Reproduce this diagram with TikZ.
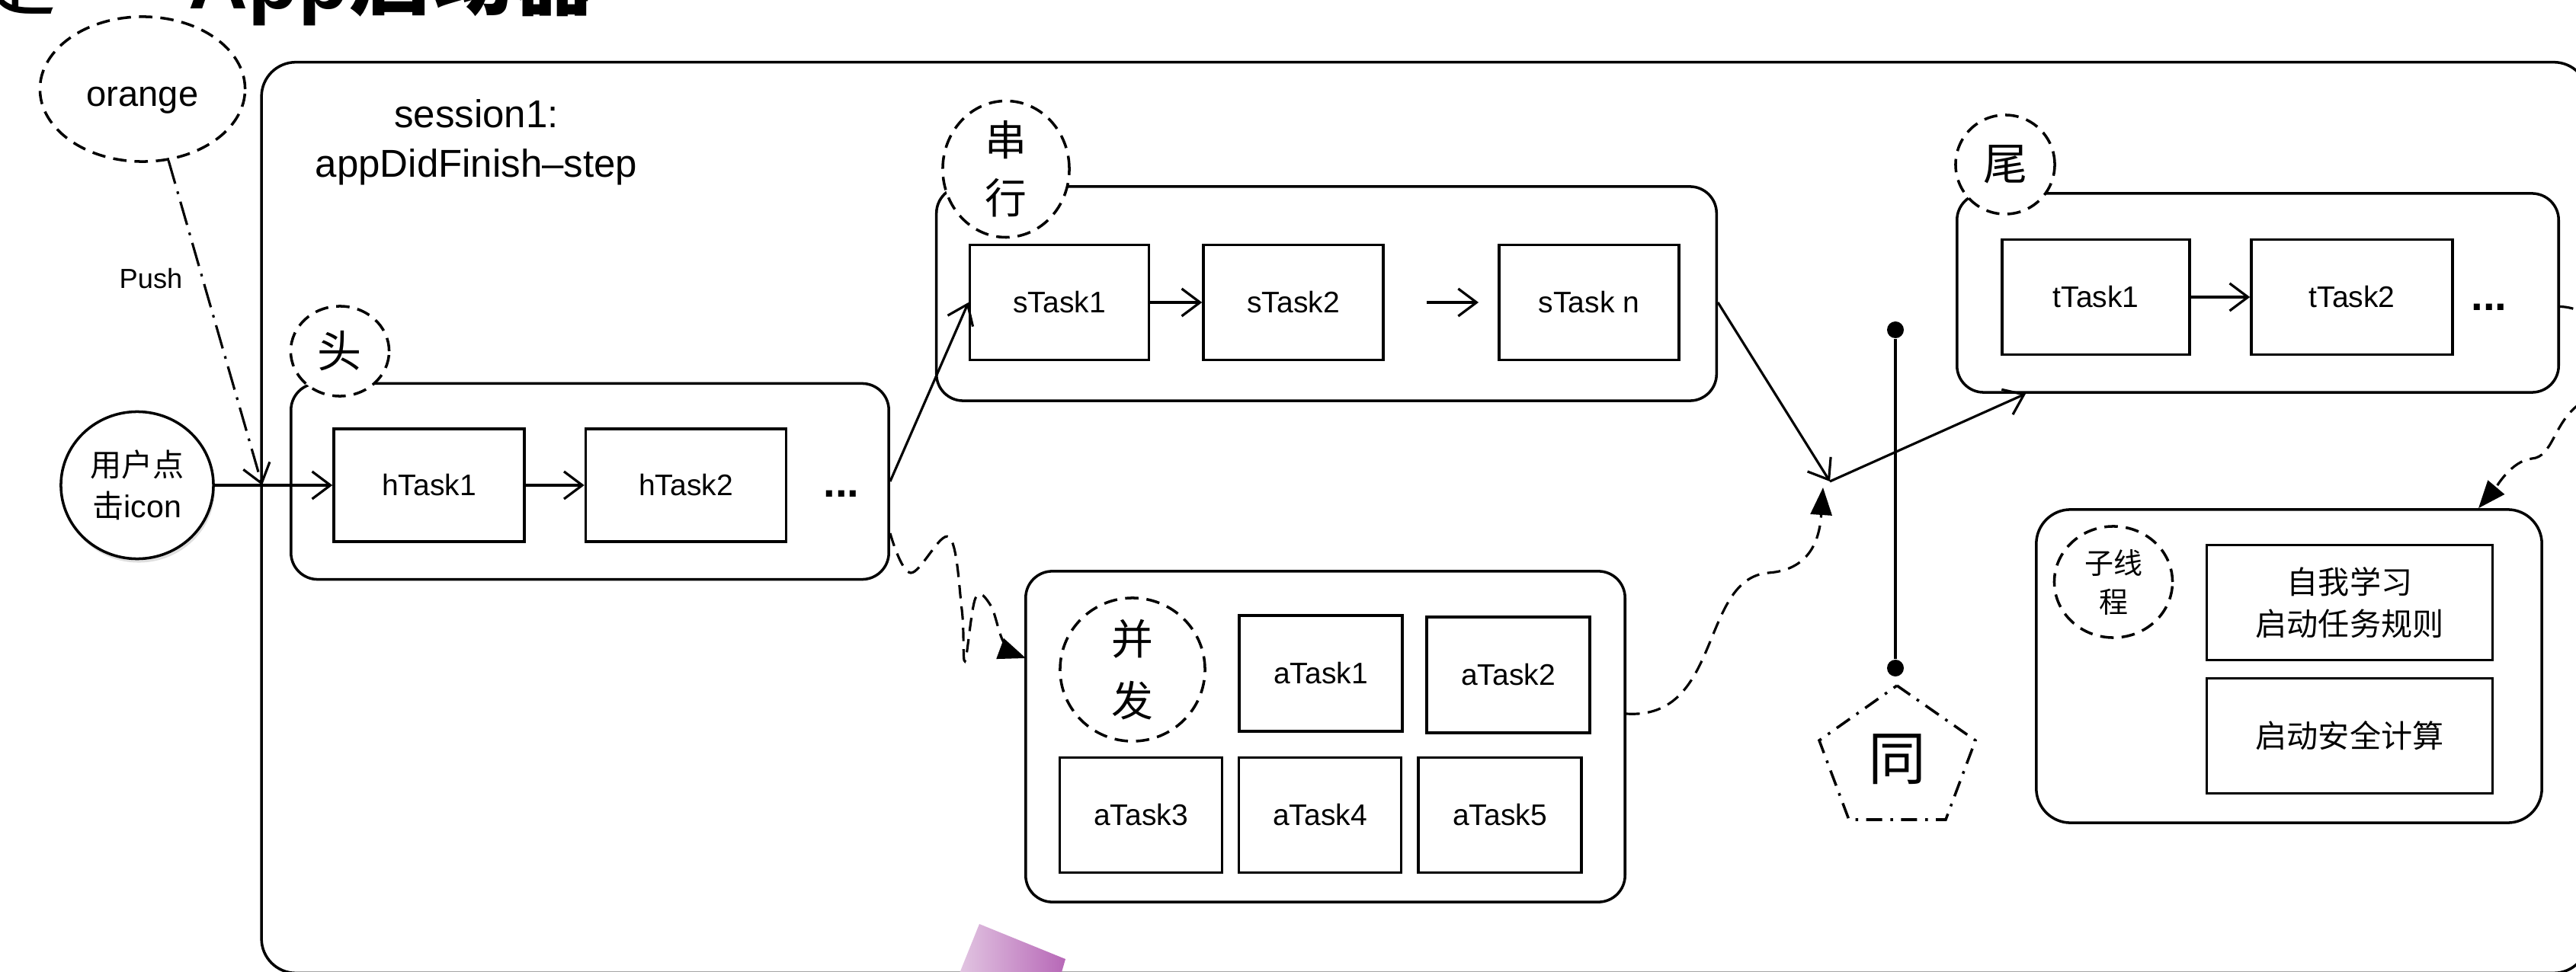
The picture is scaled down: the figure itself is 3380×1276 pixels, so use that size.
\documentclass[tikz,border=0pt]{standalone}
\usepackage{fontspec}
\setmainfont{Liberation Sans}
\newfontfamily\cjk{Noto Sans CJK SC}
\usetikzlibrary{arrows.meta,shapes.geometric,calc,shadows}
\definecolor{purpleA}{HTML}{E3C8E3}
\definecolor{purpleB}{HTML}{B768B7}
\newcommand\fsz[2]{\fontsize{#1pt}{#2pt}\selectfont}
\tikzset{
  grp/.style={draw, line width=1pt, rounded corners=0.35cm, inner sep=0pt},
  task/.style={draw, line width=1pt, inner sep=0pt, align=center, font=\fsz{11.1}{13}},
  tag/.style={draw, ellipse, line width=1pt, dash pattern=on 5pt off 3pt, fill=white, inner sep=0pt, align=center},
  conn/.style={line width=0.9pt, -{Straight Barb[length=0.24cm,width=0.36cm]}},
  dconn/.style={line width=0.9pt, dash pattern=on 5pt off 3pt, -{Triangle[length=0.36cm,width=0.28cm]}},
  dotnode/.style={circle, fill=black, minimum size=0.22cm, inner sep=0pt},
}
\begin{document}
\begin{tikzpicture}[x=0.01cm, y=-0.01cm]
\useasboundingbox (0,0) rectangle (3380,1276);
\clip (0,0) rectangle (3380,1276);
\fill[white] (0,0) rectangle (3380,1276);

% title (cut off at the top, as in the reference)
\node[anchor=base east, inner sep=0pt, font={\cjk\fsz{30.7}{36}}] (ttlA) at (75,12) {定};
\node[anchor=base west, inner sep=0pt, font={\bfseries\fsz{30.7}{36}}] (ttlB) at (247,12) {App{\cjk 启动器}};

% session box
\node[draw, line width=1pt, rounded corners=0.45cm, minimum width=30.51cm, minimum height=11.95cm, inner sep=0pt] (session) at (1869.5,679.5) {};
\node[align=center, inner sep=0pt, font=\fsz{14.5}{18.5}] (sess) at (625,187) {session1:\\appDidFinish\textendash step};

% orange + user
\node[tag, minimum width=2.69cm, minimum height=1.90cm, font=\fsz{13.4}{16}] (orange) at (187,117) {\raisebox{-0.22cm}[0pt][0pt]{orange}};
\node[draw, ellipse, line width=1pt, fill=white, minimum width=2.0cm, minimum height=1.93cm, inner sep=0pt, align=center, font=\fsz{11.7}{15.4}, drop shadow={shadow xshift=0.02cm, shadow yshift=-0.05cm, opacity=0.25}] (user) at (180,637) {{\cjk 用户点}\\{\cjk 击}icon};
\node[inner sep=0pt, font=\fsz{10.3}{12}] (push) at (198,366) {Push};

% group boxes
\node[grp, minimum width=7.84cm, minimum height=2.57cm] (head) at (774,632) {};
\node[grp, minimum width=10.23cm, minimum height=2.81cm] (serial) at (1740.5,385.5) {};
\node[grp, minimum width=7.86cm, minimum height=4.34cm] (parallel) at (1739,967) {};
\node[grp, minimum width=7.89cm, minimum height=2.61cm] (tail) at (2962.5,384.5) {};
\node[grp, minimum width=6.63cm, minimum height=4.11cm, rounded corners=0.45cm] (sub) at (3003.5,874.5) {};

% tags
\node[tag, minimum width=1.29cm, minimum height=1.18cm, font={\cjk\fsz{16.5}{20}}] (headtag) at (446,461) {头};
\node[tag, minimum width=1.66cm, minimum height=1.64cm, font={\cjk\fsz{15.6}{21.6}}] (serialtag) at (1320,222) {串\\行};
\node[tag, minimum width=1.90cm, minimum height=1.88cm, font={\cjk\fsz{15.6}{23}}] (paratag) at (1486,879) {并\\发};
\node[tag, minimum width=1.30cm, minimum height=1.30cm, font={\cjk\fsz{16.5}{20}}] (tailtag) at (2631,216) {尾};
\node[tag, minimum width=1.55cm, minimum height=1.46cm, font={\cjk\fsz{10.8}{14.5}}] (subtag) at (2773,764) {子线\\程};

% tasks
\node[task, minimum width=2.50cm, minimum height=1.48cm] (hTask1) at (563,637) {hTask1};
\node[task, minimum width=2.63cm, minimum height=1.48cm] (hTask2) at (900,637) {hTask2};
\node[inner sep=0pt, font={\bfseries\fsz{16}{18}}] (hdots) at (1104,648) {...};

\node[task, minimum width=2.35cm, minimum height=1.51cm] (sTask1) at (1390,397) {sTask1};
\node[task, minimum width=2.36cm, minimum height=1.51cm] (sTask2) at (1697,397) {sTask2};
\node[task, minimum width=2.36cm, minimum height=1.51cm] (sTaskn) at (2085,397) {sTask n};

\node[task, minimum width=2.14cm, minimum height=1.52cm] (aTask1) at (1733,884) {aTask1};
\node[task, minimum width=2.14cm, minimum height=1.52cm] (aTask2) at (1979,886) {aTask2};
\node[task, minimum width=2.13cm, minimum height=1.51cm] (aTask3) at (1497,1070) {aTask3};
\node[task, minimum width=2.13cm, minimum height=1.51cm] (aTask4) at (1732,1070) {aTask4};
\node[task, minimum width=2.14cm, minimum height=1.51cm] (aTask5) at (1968,1070) {aTask5};

\node[task, minimum width=2.46cm, minimum height=1.51cm] (tTask1) at (2750,390) {tTask1};
\node[task, minimum width=2.64cm, minimum height=1.51cm] (tTask2) at (3086,390) {tTask2};
\node[inner sep=0pt, font={\bfseries\fsz{16}{18}}] (tdots) at (3266,403) {...};

\node[task, minimum width=3.75cm, minimum height=1.51cm, font={\cjk\fsz{11.7}{15.6}}] (learn) at (3083,791) {自我学习\\启动任务规则};
\node[task, minimum width=3.75cm, minimum height=1.51cm, font={\cjk\fsz{11.7}{15.6}}] (safe) at (3083,966) {启动安全计算};

% sync bar and pentagon
\node[dotnode] (dot1) at (2487,433) {};
\node[dotnode] (dot2) at (2487,877) {};
\draw[line width=0.9pt] (dot1) -- (dot2);
\node[inner sep=0pt, font={\cjk\fsz{21.6}{26}}] (tong) at (2489,997) {同};
\draw[line width=1pt, dash pattern=on 6pt off 3pt on 1pt off 3pt] (2489,900) -- (2592,972) -- (2553,1076) -- (2426,1076) -- (2387,972) -- cycle;

% connectors
\coordinate (pushend) at (344,637);
\draw[line width=0.9pt, dash pattern=on 9pt off 3pt on 1pt off 3pt, -{Straight Barb[length=0.24cm,width=0.36cm]}] (orange.-70) -- (pushend);
\draw[conn] (user.east) -- (hTask1.west);
\draw[conn] (hTask1) -- (hTask2);
\draw[conn] (head.east) -- (sTask1.west);
\draw[conn] (sTask1) -- (sTask2);
\coordinate (fa) at (1872,397);
\coordinate (fb) at (1940,397);
\draw[conn] (fa) -- (fb);
\draw[conn] (tTask1) -- (tTask2);
\coordinate (junc) at (2401,632);
\draw[conn] (serial.east |- sTaskn.east) -- (junc);
\draw[conn] (junc) -- ($(tail.south west)+(92,0)$);

% dashed: parallel -> junction
\draw[dconn] ($(parallel.east)+(0,-30)$) .. controls (2260,945) and (2230,760) .. (2320,752) .. controls (2380,748) and (2388,700) .. ($(junc)+(-9,8)$);

% dashed squiggle: head -> parallel
\coordinate (sq0) at ($(head.east)+(0,68)$);
\coordinate (sqend) at ($(parallel.west)+(2,-103)$);
\draw[dconn] plot[smooth, tension=0.6] coordinates {(sq0) (1195,752) (1245,705) (1262,800) (1266,868) (1280,785) (1300,795) (1318,845) (sqend)};

% dashed: tail -> sub thread
\coordinate (t0) at ($(tail.east)+(0,18)$);
\coordinate (subin) at ($(sub.north west)+(582,0)$);
\draw[dconn] (t0) .. controls (3430,405) and (3430,500) .. (3385,530) .. controls (3350,555) and (3350,600) .. (3322,602) .. controls (3295,605) and (3275,640) .. (subin);

% purple decoration
\shade[left color=purpleA, right color=purpleB] (1285,1213) -- (1398,1259) -- (1389,1290) -- (1254,1290) -- cycle;
\end{tikzpicture}
\end{document}
